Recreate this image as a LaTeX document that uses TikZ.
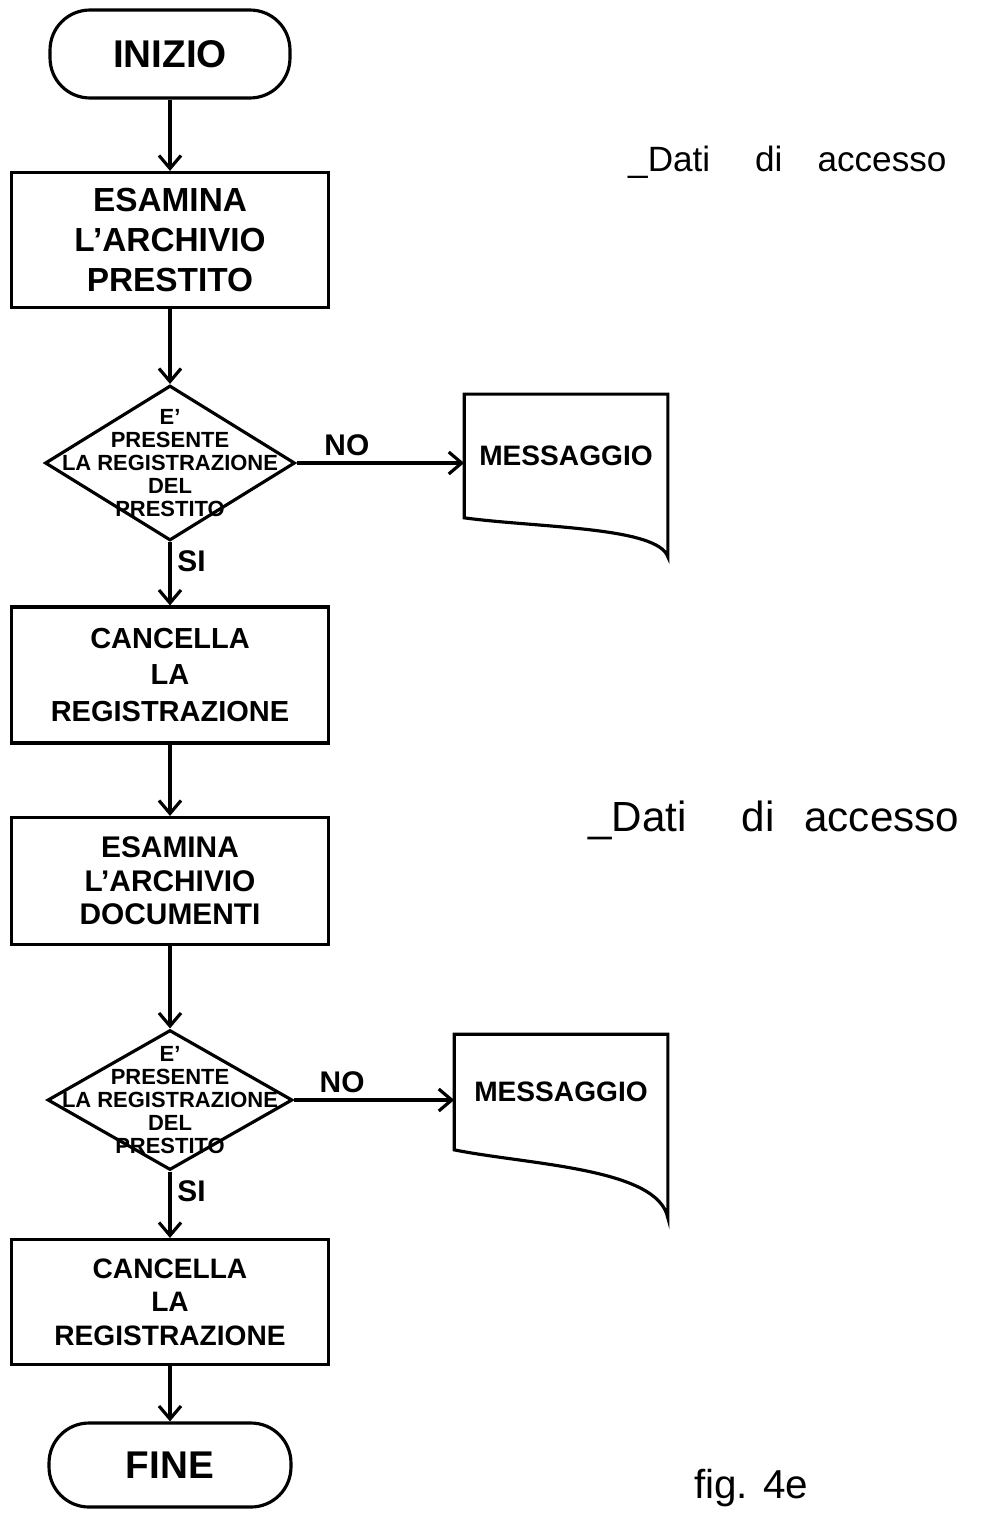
\documentclass[tikz,border=0pt]{standalone}
\usepackage{fontspec}
\setmainfont{Liberation Sans}
\usetikzlibrary{shapes.geometric,arrows.meta,calc}

\tikzset{
  flow/.style={line width=1.8pt, -{Straight Barb[length=2.6mm,width=4.4mm]}},
  terminal/.style={draw, line width=1.8pt, rounded corners=8mm, minimum width=48mm, minimum height=17.6mm, font=\fontsize{22}{26}\selectfont\bfseries},
  procbox/.style={draw, line width=1.8pt, minimum width=63.4mm, align=center, font=\fontsize{16}{19}\selectfont\bfseries},
  decision/.style={draw, diamond, line width=1.8pt, inner sep=0pt},
  dtext/.style={align=center, font=\fontsize{12.5}{13.2}\selectfont\bfseries},
  msgbox/.style={align=center, font=\fontsize{16}{18}\selectfont\bfseries},
  answer/.style={font=\fontsize{17}{17}\selectfont\bfseries},
  note/.style={font=\fontsize{20}{22}\selectfont},
}

\begin{document}
\begin{tikzpicture}[x=0.02cm, y=-0.02cm]
    \useasboundingbox (0,0) rectangle (981,1514);

    % colonna principale
    \node[terminal] (inizio) at (170,54) {INIZIO};
    \node[procbox, minimum height=27mm, font=\fontsize{19}{23}\selectfont\bfseries] (esPrest) at (170,240) {ESAMINA\\L'ARCHIVIO\\PRESTITO};
    \node[decision, minimum width=50mm, minimum height=31mm] (test1) at (170,463) {};
    \node[dtext] (test1txt) at (test1) {E'\\PRESENTE\\LA REGISTRAZIONE\\DEL\\PRESTITO};
    \node[procbox, minimum height=27.2mm, font=\fontsize{16.5}{21}\selectfont\bfseries] (canc1) at (170,675) {CANCELLA\\LA\\REGISTRAZIONE};
    \node[procbox, minimum height=25.4mm, font=\fontsize{17}{19}\selectfont\bfseries] (esDoc) at (170,881) {ESAMINA\\L'ARCHIVIO\\DOCUMENTI};
    \node[decision, minimum width=49mm, minimum height=28mm] (test2) at (170,1100) {};
    \node[dtext] (test2txt) at (test2) {E'\\PRESENTE\\LA REGISTRAZIONE\\DEL\\PRESTITO};
    \node[procbox, minimum height=25mm] (canc2) at (170,1302) {CANCELLA\\LA\\REGISTRAZIONE};
    \node[terminal, minimum width=48.4mm, minimum height=16.8mm] (fine) at (170,1465) {FINE};

    % messaggi
    \node[msgbox, minimum width=40.6mm, minimum height=24.6mm] (msg1) at (566,456) {MESSAGGIO};
    \draw[line width=1.8pt] (msg1.north west) -- (msg1.north east) -- ([yshift=-7.8mm]msg1.south east)
        .. controls +(-2mm,6mm) and +(15mm,-2mm) .. (msg1.south west) -- cycle;
    \node[msgbox, minimum width=42.6mm, minimum height=23mm] (msg2) at (561,1092) {MESSAGGIO};
    \draw[line width=1.8pt] (msg2.north west) -- (msg2.north east) -- ([yshift=-13.6mm]msg2.south east)
        .. controls +(-2mm,10mm) and +(15mm,-3mm) .. (msg2.south west) -- cycle;

    % collegamenti
    \draw[flow] (inizio) -- (esPrest);
    \draw[flow] (esPrest) -- (test1);
    \draw[flow] (test1.east) -- (test1.east -| msg1.west) node[answer, above, pos=0.3]{NO};
    \draw[flow] (test1.south) -- (canc1.north) node[answer, right, pos=0.3]{SI};
    \draw[flow] (canc1) -- (esDoc);
    \draw[flow] (esDoc) -- (test2);
    \draw[flow] (test2.east) -- (test2.east -| msg2.west) node[answer, above, pos=0.3]{NO};
    \draw[flow] (test2.south) -- (canc2.north) node[answer, right, pos=0.3]{SI};
    \draw[flow] (canc2) -- (fine);

    % annotazioni
    \node[note, anchor=west] (dati1) at (622,162) {\_Dati\hspace{9mm}di\hspace{7mm}accesso};
    \node[note, anchor=west, font=\fontsize{24}{28}\selectfont] (dati2) at (582,820) {\_Dati\hspace{11mm}di\hspace{6mm}accesso};
    \node[note, anchor=west, font=\fontsize{23}{30}\selectfont] (fig) at (688,1488) {fig. 4e};
\end{tikzpicture}
\end{document}
